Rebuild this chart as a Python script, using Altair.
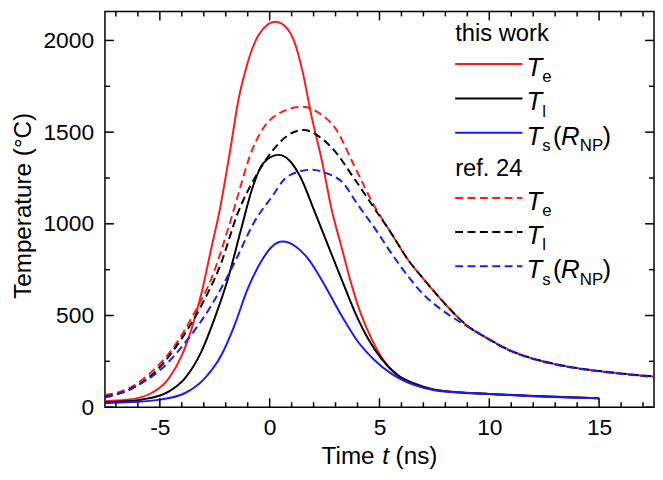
import altair as alt
import pandas as pd

# ---------------- data ----------------
te_this_t = [-7.5, -6.5, -5.4, -4.6, -4.0, -3.55, -3.1, -2.67, -2.25, -1.8, -1.4, -1.0, -0.5, 0.25, 0.7, 1.1, 1.5, 1.9, 2.38, 2.83, 3.28, 3.7, 4.15, 4.65, 5.25, 6.0, 6.6, 7.5, 8.5, 10, 12, 15]
te_this_v = [33, 40, 76, 156, 282, 430, 624, 860, 1090, 1400, 1690, 1880, 2030, 2102, 2078, 2000, 1830, 1590, 1343, 1074, 870, 680, 510, 370, 246, 160, 130, 95, 82, 72, 61, 49]

tl_this_t = [-7.5, -6.5, -5.8, -4.6, -3.87, -3.12, -2.52, -1.91, -1.31, -0.8, -0.3, 0.4, 0.9, 1.4, 2.05, 2.68, 3.28, 3.89, 4.49, 5.09, 5.84, 6.6, 7.5, 8.5, 10, 12, 15]
tl_this_v = [27, 32, 42, 85, 156, 300, 480, 696, 966, 1190, 1330, 1376, 1345, 1255, 1065, 876, 696, 516, 372, 264, 174, 127, 95, 82, 72, 61, 49]

ts_this_t = [-7.5, -6.3, -5.07, -3.87, -2.97, -2.21, -1.61, -1.01, -0.41, 0.1, 0.6, 1.2, 1.78, 2.53, 3.28, 4.04, 4.79, 5.54, 6.6, 7.5, 8.5, 10, 12, 15]
ts_this_v = [22, 28, 40, 76, 156, 282, 444, 642, 790, 875, 903, 875, 805, 660, 498, 354, 255, 183, 120, 92, 81, 72, 60, 49]

te_ref_t = [-7.5, -6.43, -5.38, -4.32, -3.42, -2.67, -1.91, -1.31, -0.93, -0.3, 0.4, 1.48, 2.3, 2.98, 3.89, 4.79, 5.54, 6.3, 7.0, 7.8, 9.0, 10.0, 10.8, 12.3, 13.0, 14.0, 15.3, 16.5, 17.5]
te_ref_v = [66, 102, 192, 336, 516, 696, 966, 1210, 1360, 1520, 1600, 1638, 1600, 1523, 1307, 1092, 948, 804, 700, 588, 444, 370, 318, 255, 235, 213, 193, 178, 167]

tl_ref_t = [-7.5, -6.43, -5.07, -4.02, -3.12, -2.21, -1.46, -0.63, 0.12, 0.8, 1.55, 2.2, 2.83, 3.89, 4.79, 5.54, 6.3, 7.0, 7.8, 9.0, 10.0, 10.8, 12.3, 13.0, 14.0, 15.3, 16.5, 17.5]
tl_ref_v = [58, 93, 210, 372, 552, 786, 1056, 1260, 1397, 1480, 1512, 1480, 1415, 1240, 1080, 948, 804, 700, 588, 444, 370, 318, 255, 235, 213, 193, 178, 167]

ts_ref_t = [-7.5, -6.13, -4.92, -3.72, -2.67, -1.61, -0.7, 0.2, 0.57, 1.2, 1.93, 2.6, 3.28, 4.04, 4.79, 5.54, 6.3, 7.0, 7.8, 8.7, 9.5, 10.8, 12.3, 13.0, 14.0, 15.3, 16.5, 17.5]
ts_ref_v = [52, 112, 210, 372, 552, 786, 1010, 1164, 1230, 1280, 1295, 1275, 1230, 1100, 975, 840, 714, 615, 534, 462, 405, 315, 253, 233, 211, 191, 176, 165]

x_major_ticks = [-5, 0, 5, 10, 15]
x_minor_ticks = [-7, -6, -4, -3, -2, -1, 1, 2, 3, 4, 6, 7, 8, 9, 11, 12, 13, 14, 16, 17]
y_major_ticks = [0, 500, 1000, 1500, 2000]
y_minor_ticks = [250, 750, 1250, 1750]

series_names = ["Te_this", "Tl_this", "Ts_this", "Te_ref", "Tl_ref", "Ts_ref"]
series_colors = ["#ff1a1a", "#000000", "#1a1aff", "#ff1a1a", "#000000", "#1a1aff"]
series_dashed = [False, False, False, True, True, True]
legend_headers = ["this work", "ref. 24"]
legend_subs = ["e", "l", "s", "e", "l", "s"]

# ---------------- build table ----------------
rows = []
for name, ts, vs in zip(series_names,
                        [te_this_t, tl_this_t, ts_this_t, te_ref_t, tl_ref_t, ts_ref_t],
                        [te_this_v, tl_this_v, ts_this_v, te_ref_v, tl_ref_v, ts_ref_v]):
    for t, v in zip(ts, vs):
        rows.append({"series": name, "t": t, "T": v})
df = pd.DataFrame(rows)

W, H = 555, 400
FONT = "Liberation Sans"
DASH = [8, 4.5]
LABEL_EXPR = "datum.value < 0 ? '-' + format(-datum.value, 'd') : format(datum.value, 'd')"

x_scale = alt.Scale(domain=[-7.5, 17.5], nice=False, zero=False)
y_scale = alt.Scale(domain=[0, 2158], nice=False, zero=False)
x_axis = alt.Axis(values=x_major_ticks, ticks=False, grid=False, domain=False, title=None,
                  labelFontSize=23, labelPadding=10, labelFont=FONT, labelColor="black",
                  labelExpr=LABEL_EXPR)
y_axis = alt.Axis(values=y_major_ticks, ticks=False, grid=False, domain=False, title=None,
                  labelFontSize=23, labelPadding=11.5, labelFont=FONT, labelColor="black",
                  labelExpr=LABEL_EXPR)

X = alt.X("t:Q", scale=x_scale, axis=x_axis)
Y = alt.Y("T:Q", scale=y_scale, axis=y_axis)

layers = []
for name, col, dashed in zip(series_names, series_colors, series_dashed):
    kw = dict(color=col, strokeWidth=2, interpolate="monotone", clip=True)
    if dashed:
        kw["strokeDash"] = DASH
    layers.append(
        alt.Chart(df).transform_filter(alt.datum.series == name).mark_line(**kw).encode(x=X, y=Y)
    )

# inward ticks on all four sides
xt_major = pd.DataFrame({"t": x_major_ticks})
xt_minor = pd.DataFrame({"t": x_minor_ticks})
yt_major = pd.DataFrame({"T": y_major_ticks})
yt_minor = pd.DataFrame({"T": y_minor_ticks})
for d, ln in [(xt_major, 9), (xt_minor, 5)]:
    layers.append(alt.Chart(d).mark_rule(color="black", strokeWidth=1.5).encode(
        x=X, y=alt.value(H), y2=alt.value(H - ln)))
    layers.append(alt.Chart(d).mark_rule(color="black", strokeWidth=1.5).encode(
        x=X, y=alt.value(0), y2=alt.value(ln)))
for d, ln in [(yt_major, 9), (yt_minor, 5)]:
    layers.append(alt.Chart(d).mark_rule(color="black", strokeWidth=1.5).encode(
        y=Y, x=alt.value(0), x2=alt.value(ln)))
    layers.append(alt.Chart(d).mark_rule(color="black", strokeWidth=1.5).encode(
        y=Y, x=alt.value(W), x2=alt.value(W - ln)))

one = pd.DataFrame({"k": [0]})


def txt(s, x, y, size, italic=False, align="left", angle=None, baseline="alphabetic"):
    kw = dict(text=s, font=FONT, fontSize=size, color="black", align=align, baseline=baseline)
    if italic:
        kw["fontStyle"] = "italic"
    if angle is not None:
        kw["angle"] = angle
    return alt.Chart(one).mark_text(**kw).encode(x=alt.value(x), y=alt.value(y))


# axis titles
layers.append(txt("Temperature (°C)", -75, 196.5, 24.5, align="center", angle=270))
layers.append(txt("Time", 219, 457, 24.5))
layers.append(txt("t", 280.2, 457, 24.5, italic=True))
layers.append(txt("(ns)", 293.8, 457, 24.5))

# legend
LX0, LX1, TX, SX = 354, 422, 426, 442
row_y = [53, 88, 122.5, 188.5, 223, 257.5]
header_y = [30.3, 166]
for h, hy in zip(legend_headers, header_y):
    layers.append(txt(h, LX0, hy, 24))
for i, (col, dashed, sub, ry) in enumerate(zip(series_colors, series_dashed, legend_subs, row_y)):
    kw = dict(color=col, strokeWidth=2)
    if dashed:
        kw["strokeDash"] = DASH
    layers.append(alt.Chart(one).mark_rule(**kw).encode(
        x=alt.value(LX0), x2=alt.value(LX1), y=alt.value(ry)))
    layers.append(txt("T", TX, ry + 12, 26, italic=True))
    layers.append(txt(sub, SX, ry + 18.5, 17))
    if sub == "s":
        layers.append(txt("(", 453, ry + 12, 26))
        layers.append(txt("R", 461, ry + 12, 26, italic=True))
        layers.append(txt("NP", 480, ry + 18.5, 17))
        layers.append(txt(")", 503, ry + 12, 26))

chart = alt.layer(*layers).properties(
    width=W, height=H,
    autosize=alt.AutoSizeParams(type="none"),
    padding={"left": 98, "top": 1, "right": 1, "bottom": 63},
).configure_view(stroke="black", strokeWidth=1.5)

chart.save("out.html", embed_options={"renderer": "svg", "actions": False})
